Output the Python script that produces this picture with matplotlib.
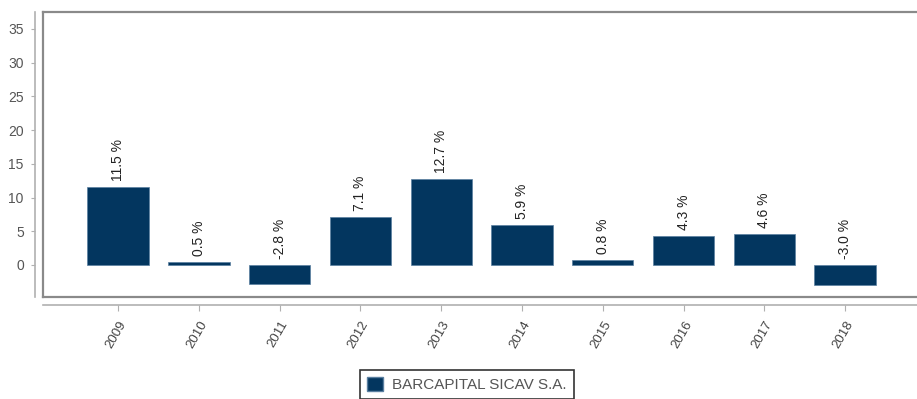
import matplotlib
matplotlib.use("Agg")
import matplotlib.pyplot as plt
from matplotlib.patches import Rectangle
from matplotlib.transforms import ScaledTranslation

years = ["2009", "2010", "2011", "2012", "2013", "2014", "2015", "2016", "2017", "2018"]
returns = [11.5, 0.5, -2.8, 7.1, 12.7, 5.9, 0.8, 4.3, 4.6, -3.0]
series_name = "BARCAPITAL SICAV S.A."
yticks = [0, 5, 10, 15, 20, 25, 30, 35]

plt.rcParams['font.family'] = ['Liberation Sans', 'DejaVu Sans']

W, H = 917, 399
fig = plt.figure(figsize=(W / 100, H / 100), dpi=100)
left, right, top, bottom = 43, 917, 12, 297
ax = fig.add_axes([left / W, 1 - bottom / H, (right - left) / W, (bottom - top) / H])

bar_color = "#03365f"
x = list(range(len(years)))
ax.bar(x, returns, width=0.76, color=bar_color, edgecolor="#5a7fa0", linewidth=0.5, zorder=2)

for xi, v in zip(x, returns):
    base = max(v, 0)
    ax.annotate(f"{v:.1f} %", xy=(xi, base), xytext=(0, 4.3), textcoords="offset points",
                rotation=90, ha="center", va="bottom", fontsize=10, color="#222222")

ax.set_xlim(-0.93, 9.89)
ax.set_ylim(-4.75, 37.5)

# frame
ax.spines["top"].set_visible(False)
ax.spines["right"].set_visible(False)
frame_col = "#8a8a8a"
ax.plot([0, 1], [1, 1], transform=ax.transAxes, color=frame_col, lw=1.6, clip_on=False, zorder=5)
ax.plot([0, 0], [0, 1], transform=ax.transAxes, color=frame_col, lw=1.6, clip_on=False, zorder=5)
ax.plot([0, 1], [0, 0], transform=ax.transAxes, color=frame_col, lw=1.6, clip_on=False, zorder=5)

# separate axes lines (offset)
for s in ["bottom", "left"]:
    ax.spines[s].set_visible(True)
    ax.spines[s].set_position(("outward", 5.8))
    ax.spines[s].set_color("#b0b0b0")
    ax.spines[s].set_linewidth(1.2)

ax.set_yticks(yticks)
ax.set_yticklabels([str(t) for t in yticks])
ax.tick_params(axis="y", length=3, width=0.8, color="#b0b0b0", labelsize=10,
               labelcolor="#555555", pad=5)
ax.set_xticks(x)
ax.set_xticklabels(years, rotation=60, ha="right", va="center", rotation_mode="anchor")
ax.tick_params(axis="x", length=4, width=0.8, color="#b0b0b0", labelsize=9.5,
               labelcolor="#444444", pad=8.2)
shift = ScaledTranslation(5.5 / 100, 0, fig.dpi_scale_trans)
for lbl in ax.get_xticklabels():
    lbl.set_transform(lbl.get_transform() + shift)
ax.grid(False)

handle = Rectangle((0, 0), 1, 1, facecolor=bar_color, edgecolor="#5a7fa0")
leg = fig.legend([handle], [series_name], loc="upper center",
                 bbox_to_anchor=(467 / W, 1 - 370 / H), borderaxespad=0, frameon=True,
                 fancybox=False, fontsize=11, handlelength=1.05, handleheight=1.0,
                 borderpad=0.45, handletextpad=0.6)
leg.get_frame().set_edgecolor("#000000")
leg.get_frame().set_linewidth(1.2)
for t in leg.get_texts():
    t.set_color("#555555")

fig.savefig("out.png", dpi=100)
